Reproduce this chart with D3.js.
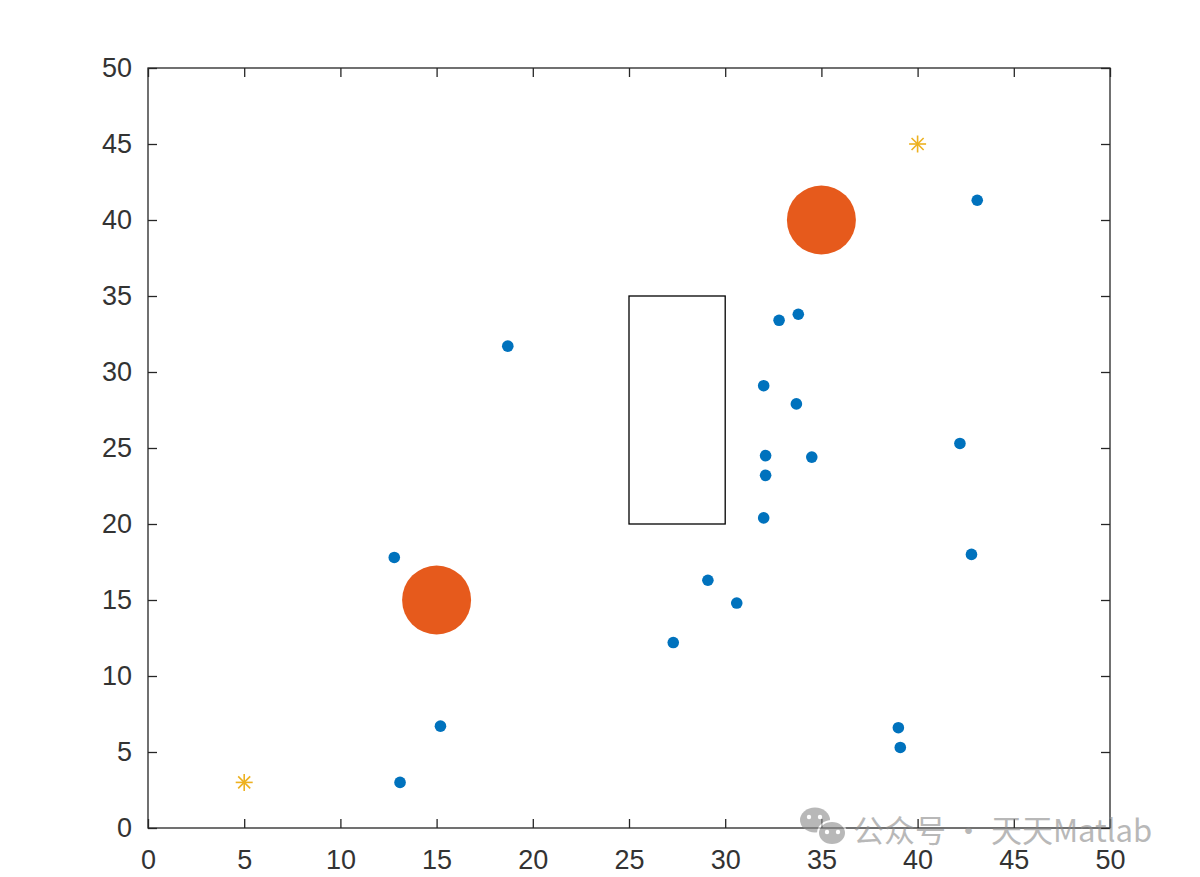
<!DOCTYPE html>
<html>
<head>
<meta charset="utf-8">
<script src="https://cdn.jsdelivr.net/npm/d3@7"></script>
<style>
  html, body { margin: 0; padding: 0; background: #fff; }
  svg { display: block; }
</style>
</head>
<body>
<svg id="chart" width="1200" height="877"></svg>
<script>
// ---- data ----
const xTicks = [0, 5, 10, 15, 20, 25, 30, 35, 40, 45, 50];
const yTicks = [0, 5, 10, 15, 20, 25, 30, 35, 40, 45, 50];

const pointsX = [43.1, 33.8, 32.8, 18.7, 32.0, 33.7, 42.2, 32.1, 34.5, 32.1, 32.0, 12.8, 42.8, 29.1, 30.6, 27.3, 15.2, 39.0, 39.1, 13.1];
const pointsY = [41.3, 33.8, 33.4, 31.7, 29.1, 27.9, 25.3, 24.5, 24.4, 23.2, 20.4, 17.8, 18.0, 16.3, 14.8, 12.2, 6.7, 6.6, 5.3, 3.0];

const obstacleX = [15, 35];
const obstacleY = [15, 40];

const starX = [5, 40];
const starY = [3, 45];

const rectX = [25, 30];
const rectY = [20, 35];

const watermarkText = "公众号 · 天天Matlab";

// ---- layout ----
const svg = d3.select("#chart");
const mLeft = 148, mRight = 1110, mTop = 68, mBottom = 828;
const x = d3.scaleLinear().domain([0, 50]).range([mLeft, mRight]);
const y = d3.scaleLinear().domain([0, 50]).range([mBottom, mTop]);

const axisColor = "#262626";
const labelColor = "#333333";
const font = "Arial, 'Liberation Sans', Helvetica, sans-serif";

// rectangle obstacle
svg.append("rect")
  .attr("x", x(rectX[0]))
  .attr("y", y(rectY[1]))
  .attr("width", x(rectX[1]) - x(rectX[0]))
  .attr("height", y(rectY[0]) - y(rectY[1]))
  .attr("fill", "none")
  .attr("stroke", "#000")
  .attr("stroke-width", 1.3);

// big orange circles
svg.selectAll("circle.obs")
  .data(obstacleX.map((d, i) => [d, obstacleY[i]]))
  .enter().append("circle")
  .attr("class", "obs")
  .attr("cx", d => x(d[0]))
  .attr("cy", d => y(d[1]))
  .attr("r", 34.5)
  .attr("fill", "#E65A1C");

// blue points
svg.selectAll("circle.pt")
  .data(pointsX.map((d, i) => [d, pointsY[i]]))
  .enter().append("circle")
  .attr("class", "pt")
  .attr("cx", d => x(d[0]))
  .attr("cy", d => y(d[1]))
  .attr("r", 5.8)
  .attr("fill", "#0072BD");

// stars (asterisk markers)
const starG = svg.selectAll("g.star")
  .data(starX.map((d, i) => [d, starY[i]]))
  .enter().append("g")
  .attr("class", "star")
  .attr("transform", d => `translate(${x(d[0])},${y(d[1])})`);
const sr = 8.5;
[0, 45, 90, 135].forEach(a => {
  const r = a * Math.PI / 180;
  starG.append("line")
    .attr("x1", -sr * Math.cos(r)).attr("y1", -sr * Math.sin(r))
    .attr("x2", sr * Math.cos(r)).attr("y2", sr * Math.sin(r))
    .attr("stroke", "#EDB120")
    .attr("stroke-width", 1.6);
});

// axes box
svg.append("rect")
  .attr("x", mLeft).attr("y", mTop)
  .attr("width", mRight - mLeft).attr("height", mBottom - mTop)
  .attr("fill", "none")
  .attr("stroke", axisColor)
  .attr("stroke-width", 1.3);

const tickLen = 9;
const xAxisB = d3.axisBottom(x).tickValues(xTicks).tickSizeInner(-tickLen).tickSizeOuter(0).tickPadding(22);
const xAxisT = d3.axisTop(x).tickValues(xTicks).tickSizeInner(-tickLen).tickSizeOuter(0).tickFormat("");
const yAxisL = d3.axisLeft(y).tickValues(yTicks).tickSizeInner(-tickLen).tickSizeOuter(0).tickPadding(16);
const yAxisR = d3.axisRight(y).tickValues(yTicks).tickSizeInner(-tickLen).tickSizeOuter(0).tickFormat("");

function styleAxis(g) {
  g.select(".domain").remove();
  g.selectAll(".tick line").attr("stroke", axisColor).attr("stroke-width", 1.3);
  g.selectAll(".tick text").attr("fill", labelColor).style("font-family", font).style("font-size", "27px");
}
svg.append("g").attr("transform", `translate(0,${mBottom})`).call(xAxisB).call(styleAxis);
svg.append("g").attr("transform", `translate(0,${mTop})`).call(xAxisT).call(styleAxis);
svg.append("g").attr("transform", `translate(${mLeft},0)`).call(yAxisL).call(styleAxis);
svg.append("g").attr("transform", `translate(${mRight},0)`).call(yAxisR).call(styleAxis);

// watermark
const wm = svg.append("g").attr("opacity", 0.6);
wm.append("ellipse").attr("cx", 815).attr("cy", 820).attr("rx", 15).attr("ry", 12.5).attr("fill", "#8a8a8a");
wm.append("ellipse").attr("cx", 832).attr("cy", 833).attr("rx", 14).attr("ry", 12).attr("fill", "#8a8a8a").attr("stroke", "#fff").attr("stroke-width", 2);
[[809, 817], [820, 817], [827, 832], [838, 832]].forEach(p => {
  wm.append("circle").attr("cx", p[0]).attr("cy", p[1]).attr("r", 2.2).attr("fill", "#fff");
});
wm.append("text")
  .attr("x", 853).attr("y", 842)
  .attr("fill", "#8a8a8a")
  .style("font-family", "'Noto Sans CJK SC', sans-serif")
  .style("font-size", "31px")
  .text(watermarkText);
</script>
</body>
</html>
